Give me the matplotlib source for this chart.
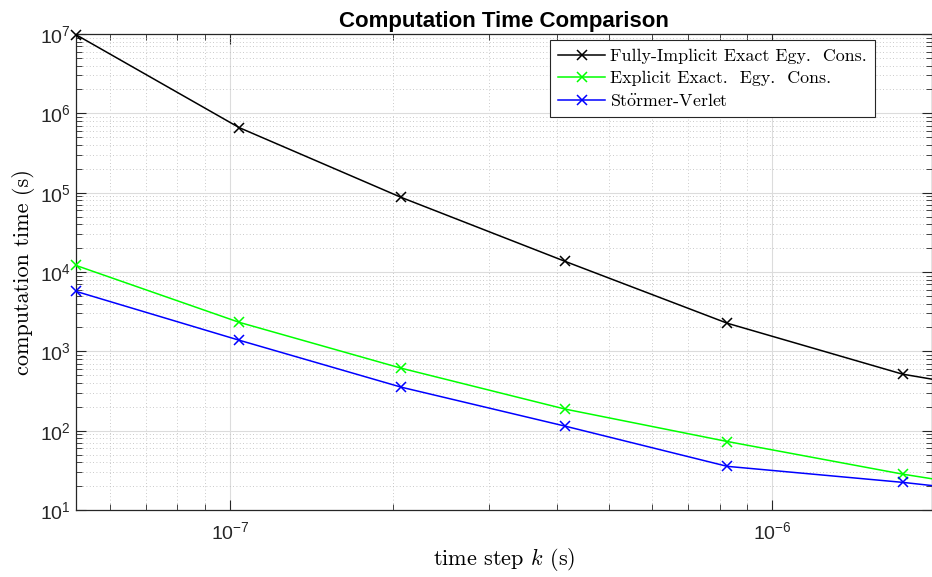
import numpy as np
import matplotlib
matplotlib.use("agg")
import matplotlib.pyplot as plt
from matplotlib.ticker import LogLocator, NullFormatter, FixedLocator

# time steps (s) and run times (s)
time_step = [5.2e-8, 1.04e-7, 2.07e-7, 4.15e-7, 8.26e-7, 1.74e-6, 3.5e-6]
implicit_time = [9.8e6, 6.6e5, 8.7e4, 1.36e4, 2.26e3, 515, 229]
explicit_time = [1.21e4, 2.32e3, 612, 187, 73, 28.3, 13.3]
verlet_time = [5.7e3, 1.38e3, 353, 114, 35.5, 22.3, 13.2]
x_ticks = [1e-7, 1e-6]
y_ticks = [1e1, 1e2, 1e3, 1e4, 1e5, 1e6, 1e7]

labels = ["Fully-Implicit Exact Egy.  Cons.",
          "Explicit Exact.  Egy.  Cons.",
          r"St$\ddot{\mathrm{o}}$rmer-Verlet"]
colors = ["black", "#00ff00", "blue"]

plt.rcParams["font.family"] = ["Liberation Sans", "DejaVu Sans"]
plt.rcParams["mathtext.fontset"] = "cm"
serif = ["cmr10", "DejaVu Serif"]

fig = plt.figure(figsize=(9.32, 5.77), dpi=100)
ax = fig.add_axes([76 / 932, 1 - 510 / 577, 856 / 932, 476 / 577])

series = [implicit_time, explicit_time, verlet_time]
for y, lab, c in zip(series, labels, colors):
    ax.plot(time_step, y, color=c, lw=1.1, marker="x", ms=7, mew=1.1,
            label=lab, clip_on=False, zorder=3)

ax.set_xscale("log")
ax.set_yscale("log")
ax.set_xlim(5.2e-8, 1.97e-6)
ax.set_ylim(1e1, 1e7)

ax.xaxis.set_major_locator(FixedLocator(x_ticks))
ax.yaxis.set_major_locator(FixedLocator(y_ticks))
ax.yaxis.set_minor_locator(LogLocator(base=10, subs=np.arange(2, 10), numticks=20))
ax.xaxis.set_minor_locator(LogLocator(base=10, subs=np.arange(2, 10), numticks=20))
ax.xaxis.set_minor_formatter(NullFormatter())
ax.yaxis.set_minor_formatter(NullFormatter())

ax.grid(True, which="major", color="#dcdcdc", lw=0.8, ls="-")
ax.grid(True, which="minor", color="#b8b8b8", lw=0.6, ls=(0, (1, 3)))
ax.set_axisbelow(True)

ax.tick_params(which="both", direction="in", top=True, right=True,
               colors="#262626", labelsize=14)
ax.tick_params(which="major", length=7, width=0.8)
ax.tick_params(which="minor", length=4, width=0.6)
ax.tick_params(axis="x", pad=8)
for s in ax.spines.values():
    s.set_color("#262626")
    s.set_linewidth(0.9)

ax.set_title("Computation Time Comparison", fontsize=16, fontweight="bold", pad=5)
ax.set_xlabel("time step $k$ (s)", fontsize=16, family=serif, labelpad=2)
ax.set_ylabel("computation time (s)", fontsize=16, family=serif, labelpad=4)

leg = ax.legend(loc="upper right", bbox_to_anchor=(0.9335, 0.987),
                prop={"family": serif, "size": 12.9}, fancybox=False,
                framealpha=1, edgecolor="#262626", borderpad=0.45,
                labelspacing=0.36, handlelength=2.6, handletextpad=0.3,
                borderaxespad=0)
leg.get_frame().set_linewidth(0.8)

fig.savefig("out.png", dpi=100)
